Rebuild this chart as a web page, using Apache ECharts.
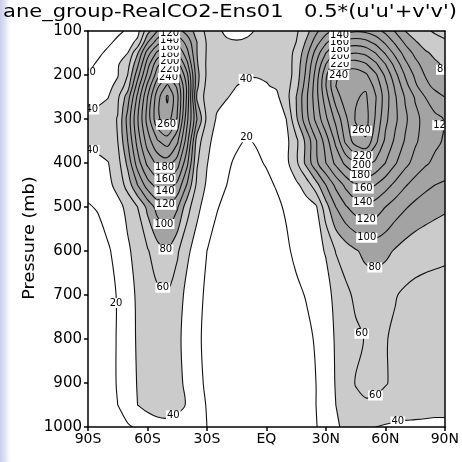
<!DOCTYPE html>
<html>
<head>
<meta charset="utf-8">
<title>0.5*(u'u'+v'v')</title>
<script src="https://cdn.jsdelivr.net/npm/echarts@6/dist/echarts.min.js"></script>
<style>
html, body { margin: 0; padding: 0; background: #ffffff; }
#chart { width: 462px; height: 462px; }
</style>
</head>
<body>
<div id="chart"></div>
<script>
// Latitude columns (degrees, south negative) and pressure levels (mb)
const lats = [-90,-85,-80,-75,-70,-65,-60,-55,-50,-45,-40,-35,-30,-25,-20,-15,-10,-5,0,5,10,15,20,25,30,35,40,45,50,55,60,65,70,75,80,85,90];
const levels = [100,125,150,175,200,225,250,300,350,400,450,500,600,700,800,900,950,1000];

// 0.5*(u'u'+v'v') along each pressure level, one value per latitude column
const eke100  = [10,12,14,17,22,33,72,100,115,108,92,72,55,43,37,35,37,41,44,47,51,57,72,95,112,126,134,138,136,128,115,98,80,70,63,58,55];
const eke125  = [11,13,17,23,31,45,98,130,146,136,112,80,58,46,42,41,42,44,46,48,52,60,82,110,136,156,166,170,166,154,136,116,96,82,72,66,62];
const eke150  = [13,17,23,30,40,78,130,165,183,162,126,80,58,49,46,45,45,46,47,49,53,64,92,128,160,185,196,200,195,180,158,134,112,95,83,76,72];
const eke175  = [16,22,30,38,52,95,150,195,214,190,145,82,57,49,46,44,44,45,45,47,52,66,100,140,180,214,228,230,222,204,180,152,125,106,92,83,77];
const eke200  = [20,26,33,39,60,112,165,212,236,214,165,86,57,48,44,42,41,41,42,44,50,68,104,148,196,236,250,252,244,224,196,166,138,116,99,88,81];
const eke225  = [26,31,36,44,70,130,185,235,264,236,175,84,54,46,43,40,38,37,39,42,52,72,110,152,200,240,256,255,257,234,206,176,148,124,106,95,88];
const eke250  = [32,35,39,56,90,145,200,252,283,246,175,76,52,45,41,36,33,31,32,36,52,80,115,152,192,230,252,258,263,242,210,182,158,138,120,108,100];
const eke300  = [44,47,52,61,107,158,208,256,272,238,165,100,55,38,32,28,25,25,27,31,40,76,112,145,176,206,236,262,268,238,205,184,164,146,133,125,119];
const eke350  = [43,47,52,60,100,148,190,218,230,205,148,70,45,33,27,22,19,21,24,28,35,55,85,118,150,185,225,250,258,226,196,176,158,143,132,124,118];
const eke400  = [32,35,39,52,85,130,165,185,190,170,125,62,41,28,22,18,16,18,21,26,35,55,85,115,140,165,185,200,206,196,180,162,146,133,123,116,112];
const eke450  = [24,28,35,46,68,100,130,148,150,135,98,55,37,26,20,16,14,15,17,21,28,36,48,72,100,125,145,160,167,160,148,135,122,112,105,100,97];
const eke500  = [19,21,27,34,45,60,85,108,118,103,68,45,31,21,16,13,12,12,13,17,22,27,32,37,72,100,118,130,134,130,120,110,102,95,90,86,83];
const eke600  = [12,14,18,25,37,47,58,72,80,63,44,31,20,14,12,11,10,10,11,13,17,24,30,36,41,61,70,78,85,88,85,78,72,68,66,65,64];
const eke700  = [12,13,15,21,32,43,50,56,58,50,34,25,17,13,11,10,10,10,10,11,13,16,21,28,35,44,55,64,68,67,64,61,57,55,54,53,52];
const eke800  = [12,13,15,21,32,42,47,50,50,45,32,23,16,12,10,10,9,9,9,10,11,13,15,22,31,42,50,56,61,63,61,57,54,52,51,50,50];
const eke900  = [12,13,15,21,31,41,46,48,48,45,36,25,17,12,10,10,9,9,9,10,11,12,14,20,31,41,50,61,64,64,61,57,54,52,50,49,48];
const eke950  = [12,13,15,20,29,40,45,46,46,44,39,27,19,13,10,9,9,9,9,9,10,11,13,20,30,40,48,55,58,57,54,50,47,46,45,44,44];
const eke1000 = [11,12,13,15,18,22,30,35,36,34,28,24,20,14,11,9,9,9,9,9,10,11,13,19,28,38,43,46,45,40,38,37,37,37,37,37,37];

const field = [eke100, eke125, eke150, eke175, eke200, eke225, eke250, eke300, eke350,
               eke400, eke450, eke500, eke600, eke700, eke800, eke900, eke950, eke1000];

// Contour interval and shading thresholds
const contourLevels = [20, 40, 60, 80, 100, 120, 140, 160, 180, 200, 220, 240, 260, 280];
const shadeLevels = [40, 80];
const shadeColors = ['#cbcbcb', '#a3a3a3'];

// Axis tick text
const xTickText = { '-90': '90S', '-60': '60S', '-30': '30S', '0': 'EQ', '30': '30N', '60': '60N', '90': '90N' };
const yTickText = { 100: '100', 200: '200', 300: '300', 400: '400', 500: '500', 600: '600', 700: '700', 800: '800', 900: '900', 1000: '1000' };

// Where contour labels are placed: [contour value, latitude, pressure]
const labelSpots = [
  [20, -89, 195], [40, -86.5, 291], [40, -85.5, 355], [20, -75.7, 718],
  [240, -49, 205], [220, -49, 188], [200, -49, 170], [180, -49, 154], [160, -49, 140], [140, -49, 124], [120, -49, 108],
  [260, -50.5, 314], [180, -51, 405], [160, -51, 432], [140, -51, 461], [120, -51, 495], [100, -51, 536], [80, -51, 598], [60, -52, 682],
  [40, -46, 984], [40, -10, 211], [20, -10, 341],
  [240, 35, 195], [220, 37, 175], [200, 37, 158], [180, 37, 142], [160, 37, 127], [140, 37, 110],
  [260, 48.5, 325], [220, 48.5, 382], [200, 48.5, 398], [180, 48.5, 416], [160, 48.5, 461], [140, 48.5, 491],
  [120, 50.5, 530], [100, 50.5, 575], [80, 54.5, 639],
  [60, 50.5, 784], [60, 57, 939], [40, 65.8, 973], [80, 87.5, 193], [120, 89, 314]
];

// ---- marching squares on the latitude/pressure grid ----
function traceContours(grid, xs, ys, level) {
  const nx = xs.length, ny = ys.length;
  const pts = {};
  const segs = [];
  const lerp = (a, b, va, vb) => a + (level - va) / (vb - va) * (b - a);
  const hKey = (i, j) => {
    const k = 'h' + i + ',' + j;
    if (!(k in pts)) pts[k] = [lerp(xs[i], xs[i + 1], grid[j][i], grid[j][i + 1]), ys[j]];
    return k;
  };
  const vKey = (i, j) => {
    const k = 'v' + i + ',' + j;
    if (!(k in pts)) pts[k] = [xs[i], lerp(ys[j], ys[j + 1], grid[j][i], grid[j + 1][i])];
    return k;
  };
  for (let j = 0; j < ny - 1; j++) {
    for (let i = 0; i < nx - 1; i++) {
      const a = grid[j][i], b = grid[j][i + 1], c = grid[j + 1][i + 1], d = grid[j + 1][i];
      const A = a >= level, B = b >= level, C = c >= level, D = d >= level;
      const cross = [];
      if (A !== B) cross.push(hKey(i, j));
      if (B !== C) cross.push(vKey(i + 1, j));
      if (C !== D) cross.push(hKey(i, j + 1));
      if (D !== A) cross.push(vKey(i, j));
      if (cross.length === 2) {
        segs.push(cross);
      } else if (cross.length === 4) {
        const centreHigh = (a + b + c + d) / 4 >= level;
        if (centreHigh === A) { segs.push([cross[0], cross[1]]); segs.push([cross[2], cross[3]]); }
        else { segs.push([cross[3], cross[0]]); segs.push([cross[1], cross[2]]); }
      }
    }
  }
  // join segments into chains through their shared edge points
  const adj = {};
  segs.forEach((s, n) => { (adj[s[0]] = adj[s[0]] || []).push(n); (adj[s[1]] = adj[s[1]] || []).push(n); });
  const used = new Array(segs.length).fill(false);
  const walk = (startKey, n0) => {
    const keys = [startKey];
    let key = startKey, n = n0;
    while (n !== undefined && !used[n]) {
      used[n] = true;
      const s = segs[n];
      key = s[0] === key ? s[1] : s[0];
      keys.push(key);
      n = adj[key].find(m => !used[m]);
    }
    return keys;
  };
  const chains = [];
  Object.keys(adj).forEach(k => {
    if (adj[k].length === 1 && !used[adj[k][0]]) chains.push({ closed: false, pts: walk(k, adj[k][0]).map(q => pts[q]) });
  });
  segs.forEach((s, n) => {
    if (!used[n]) {
      const keys = walk(s[0], n);
      keys.pop();
      chains.push({ closed: true, pts: keys.map(q => pts[q]) });
    }
  });
  return chains;
}

function insidePoly(p, poly) {
  let inside = false;
  for (let i = 0, j = poly.length - 1; i < poly.length; j = i++) {
    const xi = poly[i][0], yi = poly[i][1], xj = poly[j][0], yj = poly[j][1];
    if ((yi > p[1]) !== (yj > p[1]) && p[0] < (xj - xi) * (p[1] - yi) / (yj - yi) + xi) inside = !inside;
  }
  return inside;
}

// Contour lines on the grid itself
const lineSets = contourLevels.map(lv => ({ level: lv, chains: traceContours(field, lats, levels, lv) }));

// Closed shading outlines: the grid is framed by a very low border lying on the plot edges
const LOW = -1e9;
const xsPad = [lats[0]].concat(lats, [lats[lats.length - 1]]);
const ysPad = [levels[0]].concat(levels, [levels[levels.length - 1]]);
const padded = ysPad.map((_, j) => xsPad.map((_, i) =>
  (j === 0 || i === 0 || j === ysPad.length - 1 || i === xsPad.length - 1) ? LOW : field[j - 1][i - 1]));
const fillSets = shadeLevels.map(lv => {
  const loops = traceContours(padded, xsPad, ysPad, lv).filter(c => c.closed);
  loops.forEach(l => {
    const probe = l.pts.find(p => p[0] > -90 && p[0] < 90 && p[1] > 100 && p[1] < 1000) || l.pts[0];
    let depth = 0;
    loops.forEach(o => { if (o !== l && insidePoly(probe, o.pts)) depth++; });
    l.hole = depth % 2 === 1;
  });
  return loops;
});

const SMOOTH = 0.35;
const FONT = '"DejaVu Sans", sans-serif';

function nearestOnChains(chains, target) {
  let best = null, bestD = Infinity;
  chains.forEach(ch => {
    const P = ch.px;
    const n = P.length, m = ch.closed ? n : n - 1;
    for (let i = 0; i < m; i++) {
      const a = P[i], b = P[(i + 1) % n];
      const dx = b[0] - a[0], dy = b[1] - a[1];
      const L = dx * dx + dy * dy;
      let t = L ? ((target[0] - a[0]) * dx + (target[1] - a[1]) * dy) / L : 0;
      t = Math.max(0, Math.min(1, t));
      const q = [a[0] + t * dx, a[1] + t * dy];
      const d = (q[0] - target[0]) ** 2 + (q[1] - target[1]) ** 2;
      if (d < bestD) { bestD = d; best = q; }
    }
  });
  return best;
}

function renderContours(params, api) {
  const cs = params.coordSys;
  const toPx = p => api.coord(p);
  const box = [[cs.x, cs.y], [cs.x + cs.width, cs.y + cs.height]];
  const children = [];

  fillSets.forEach((loops, k) => {
    const below = k === 0 ? '#ffffff' : shadeColors[k - 1];
    loops.filter(l => !l.hole).forEach(l => children.push({
      type: 'polygon', shape: { points: l.pts.map(toPx), smooth: SMOOTH, smoothConstraint: box },
      style: { fill: shadeColors[k], stroke: null }
    }));
    loops.filter(l => l.hole).forEach(l => children.push({
      type: 'polygon', shape: { points: l.pts.map(toPx), smooth: SMOOTH, smoothConstraint: box },
      style: { fill: below, stroke: null }
    }));
  });

  lineSets.forEach(set => {
    set.chains.forEach(ch => {
      ch.px = ch.pts.map(toPx);
      if (ch.px.length < 2) return;
      children.push({
        type: ch.closed ? 'polygon' : 'polyline',
        shape: { points: ch.px, smooth: SMOOTH, smoothConstraint: box },
        style: { fill: null, stroke: '#111', lineWidth: 1.1 }
      });
    });
  });

  labelSpots.forEach(([lv, la, pr]) => {
    const set = lineSets.find(s => s.level === lv);
    if (!set || !set.chains.length) return;
    const q = nearestOnChains(set.chains, toPx([la, pr]));
    if (!q) return;
    children.push({
      type: 'text', x: q[0], y: q[1],
      style: {
        text: String(lv), font: '10px ' + FONT, fill: '#000',
        align: 'center', verticalAlign: 'middle',
        backgroundColor: '#ffffff', padding: [0, 1, 0, 1]
      }
    });
  });

  return {
    type: 'group',
    clipPath: { type: 'rect', shape: { x: cs.x, y: cs.y, width: cs.width, height: cs.height } },
    children: children
  };
}

const axisLine = { show: true, onZero: false, lineStyle: { color: '#000', width: 1.5 } };
const chart = echarts.init(document.getElementById('chart'), null, { renderer: 'canvas' });
chart.setOption({
  animation: false,
  backgroundColor: '#ffffff',
  grid: { left: 88, top: 31, right: 10, bottom: 35, containLabel: false },
  xAxis: [
    {
      type: 'value', min: -90, max: 90, interval: 30, position: 'bottom', z: 5,
      axisLine: axisLine,
      axisTick: { show: true, inside: false, length: 4, lineStyle: { color: '#000', width: 1.5 } },
      axisLabel: { formatter: v => xTickText[String(v)] || '', color: '#000', fontSize: 14, fontFamily: 'DejaVu Sans', margin: 5 },
      splitLine: { show: false }
    },
    {
      type: 'value', min: -90, max: 90, position: 'top', z: 5,
      axisLine: axisLine, axisTick: { show: false }, axisLabel: { show: false }, splitLine: { show: false }
    }
  ],
  yAxis: [
    {
      type: 'value', min: 100, max: 1000, interval: 100, inverse: true, position: 'left', z: 5,
      axisLine: axisLine,
      axisTick: { show: true, inside: false, length: 4, lineStyle: { color: '#000', width: 1.5 } },
      axisLabel: { formatter: v => yTickText[v] || String(v), color: '#000', fontSize: 15, fontFamily: 'DejaVu Sans', margin: 6 },
      splitLine: { show: false }
    },
    {
      type: 'value', min: 100, max: 1000, inverse: true, position: 'right', z: 5,
      axisLine: axisLine, axisTick: { show: false }, axisLabel: { show: false }, splitLine: { show: false }
    }
  ],
  graphic: [
    {
      type: 'rect', left: 0, top: 0, z: -10, silent: true,
      shape: { width: 12, height: 462 },
      style: { fill: new echarts.graphic.LinearGradient(0, 0, 1, 0, [
        { offset: 0, color: 'rgba(200,205,236,1)' }, { offset: 0.5, color: 'rgba(220,224,244,0.8)' }, { offset: 1, color: 'rgba(255,255,255,0)' }]) }
    },
    {
      type: 'text', x: 3, y: 12, scaleX: 1.17, z: 10,
      style: { text: 'ane_group-RealCO2-Ens01', font: '18px ' + FONT, fill: '#000', align: 'left', verticalAlign: 'middle' }
    },
    {
      type: 'text', x: 457, y: 12, scaleX: 1.17, z: 10,
      style: { text: "0.5*(u'u'+v'v')", font: '18px ' + FONT, fill: '#000', align: 'right', verticalAlign: 'middle' }
    },
    {
      type: 'text', x: 30, y: 238, rotation: Math.PI / 2, scaleX: 1.18, z: 10,
      style: { text: 'Pressure (mb)', font: '15px ' + FONT, fill: '#000', align: 'center', verticalAlign: 'middle' }
    }
  ],
  series: [{
    type: 'custom',
    coordinateSystem: 'cartesian2d',
    xAxisIndex: 0, yAxisIndex: 0,
    clip: false,
    silent: true,
    data: [[0, 500]],
    renderItem: renderContours
  }]
});
</script>
</body>
</html>
